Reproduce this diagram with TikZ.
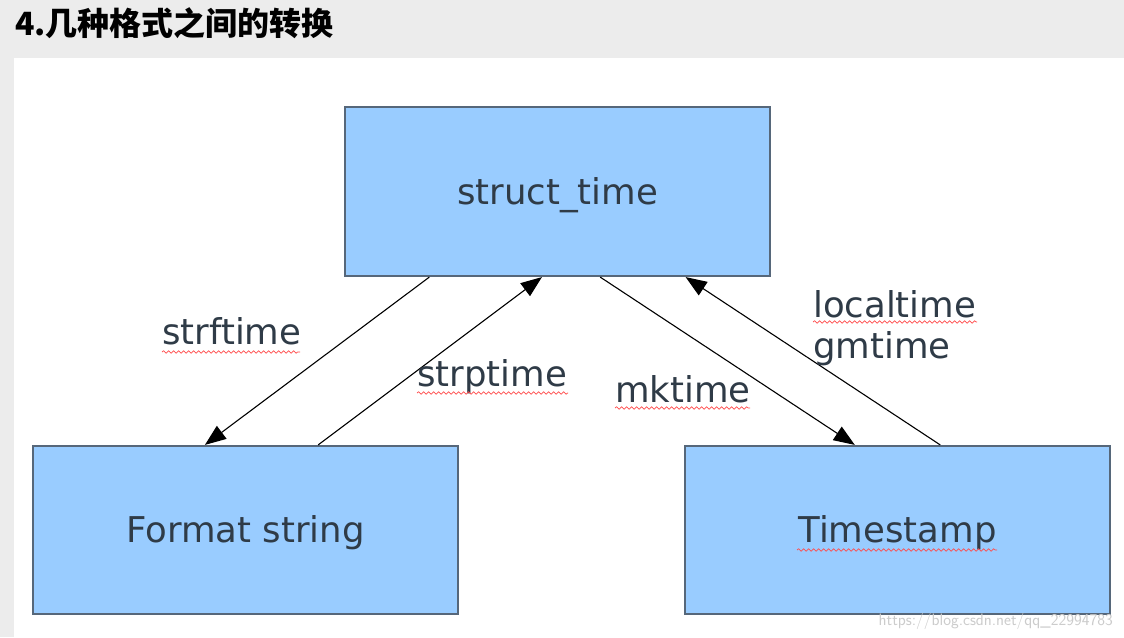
\documentclass[tikz,border=0pt]{standalone}
\usepackage{fontspec}
\setmainfont{DejaVu Sans}
\newfontfamily\cjk{Noto Sans CJK SC}
\usetikzlibrary{arrows.meta,calc,decorations.pathmorphing}
\definecolor{boxfill}{HTML}{99CCFF}
\definecolor{boxedge}{HTML}{56677A}
\definecolor{txt}{HTML}{2F3B47}
\definecolor{bg}{HTML}{ECECEC}
\begin{document}
\begin{tikzpicture}[x=1pt,y=-1pt,
  box/.style={draw=boxedge,line width=2.2pt,fill=boxfill,minimum width=425pt,minimum height=168pt,inner sep=0pt,text=txt,font=\fontsize{35.5}{40}\selectfont,text height=30pt,text depth=5pt},
  conn/.style={line width=1.1pt,-{Triangle[length=21pt,width=16pt]}},
  lbl/.style={text=txt,font=\fontsize{35.5}{40}\selectfont,anchor=base west,inner sep=0pt},
  squiggle/.style={draw=red!70,line width=0.7pt,decorate,decoration={snake,amplitude=1.2pt,segment length=5pt}}]
\useasboundingbox (0,0) rectangle (1124,637);
\fill[bg] (0,0) rectangle (1124,637);
\fill[white] (14,58) rectangle (1124,637);
\node[anchor=base west,inner sep=0pt,font=\cjk\bfseries\fontsize{32}{36}\selectfont] (title) at (15,35) {4.几种格式之间的转换};
\node[box,minimum height=169pt] (st) at (557.5,191.5) {struct\_time};
\node[box] (fs) at (245.5,530) {Format string};
\node[box] (ts) at (897.5,530) {Timestamp};
\draw[conn] ($(st.south west)!0.2!(st.south east)$) -- ($(fs.north west)!0.405!(fs.north east)$);
\draw[conn] ($(fs.north west)!0.67!(fs.north east)$) -- ($(st.south west)!0.4635!(st.south east)$);
\draw[conn] ($(st.south west)!0.6!(st.south east)$) -- ($(ts.north west)!0.4!(ts.north east)$);
\draw[conn] ($(ts.north west)!0.6!(ts.north east)$) -- ($(st.south west)!0.8!(st.south east)$);
\node[lbl] (l1) at (162,344) {strftime};
\node[lbl] (l2) at (417,386) {strptime};
\node[lbl] (l3) at (615,402) {mktime};
\node[lbl] (l4) at (813,317) {localtime};
\node[lbl] (l5) at (813,358) {gmtime};
\draw[squiggle] (162,352) -- (300,352);
\draw[squiggle] (417,393) -- (568,393);
\draw[squiggle] (615,408) -- (750,408);
\draw[squiggle] (813,322) -- (977,322);
\draw[squiggle] (797,550) -- (997,550);
\node[anchor=base east,inner sep=0pt,text=gray!40,font=\sffamily\fontsize{16.5}{19}\selectfont] (wm) at (1113,625) {https://blog.csdn.net/qq\_22994783};
\end{tikzpicture}
\end{document}
